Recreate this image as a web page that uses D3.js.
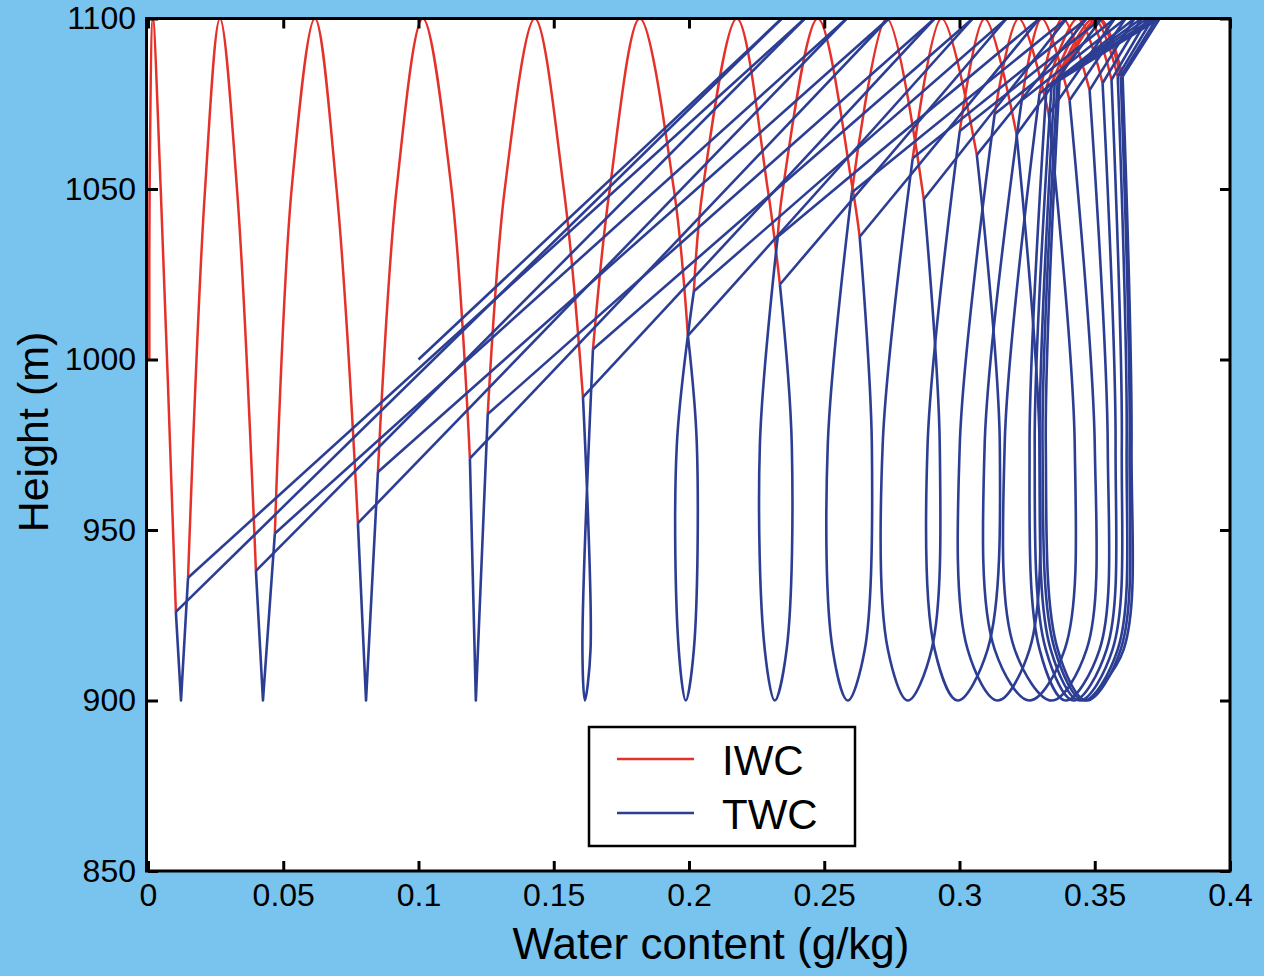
<!DOCTYPE html>
<html>
<head>
<meta charset="utf-8">
<script src="https://cdn.jsdelivr.net/npm/d3@7"></script>
<style>
  body { margin: 0; background: #79c4ee; }
  svg { display: block; }
  text { font-family: "Liberation Sans", Arial, Helvetica, sans-serif; fill: #000; }
</style>
</head>
<body>
<script>
// axis ticks
var xTicks = [0, 0.05, 0.1, 0.15, 0.2, 0.25, 0.3, 0.35, 0.4];
var xTickLabels = ['0', '0.05', '0.1', '0.15', '0.2', '0.25', '0.3', '0.35', '0.4'];
var yTicks = [850, 900, 950, 1000, 1050, 1100];

// heights used for the read-off points (m)
var zTop = 1100, zBottom = 900, zLeg = 1050, zSide = 975, zLow = 915;

// start of both curves
var iwcStart = [0.0005, 1000];
var twcStart = [0.1, 1000];

// one entry per oscillation cycle
var peakX = [0.0018, 0.0266, 0.0617, 0.1016, 0.1430, 0.1818, 0.2177, 0.2476, 0.2731, 0.2934,
             0.3093, 0.3219, 0.3304, 0.3381, 0.3437, 0.3474, 0.3496, 0.3511, 0.3518];
var legLeftX = [0.0006, 0.0211, 0.0531, 0.0919, 0.1319, 0.1707, 0.2051, 0.2347];
var legRightX = [0.0047, 0.0329, 0.0697, 0.1122, 0.1537, 0.1944, 0.2291, 0.2605];
var topX = [0.2343, 0.2428, 0.2583, 0.2738, 0.2908, 0.3049, 0.3174, 0.3296, 0.3396, 0.3470,
            0.3525, 0.3574, 0.3614, 0.3647, 0.3673, 0.3695, 0.3714, 0.3729, 0.3740];
var descX = [0.0103, 0.0399, 0.0776, 0.1190, 0.1608, 0.1996, 0.2336, 0.2631, 0.2868, 0.3064,
             0.3211, 0.3330, 0.3407, 0.3481, 0.3529, 0.3562, 0.3585, 0.3596, 0.3603];
var descZ = [926, 938, 952, 971, 989, 1007, 1022, 1036, 1047, 1060,
             1066, 1072, 1076, 1079, 1081, 1082, 1083, 1083, 1083];
var descSideX = [null, null, null, null, null, 0.2029, 0.2380, 0.2676, 0.2927, 0.3149,
                 0.3296, 0.3426, 0.3500, 0.3548, 0.3577, 0.3600, 0.3618, 0.3629, 0.3636];
var descLowX = [null, null, null, null, 0.1636, 0.2018, 0.2361, 0.2650, 0.2897, 0.3104,
                0.3259, 0.3389, 0.3470, 0.3518, 0.3544, 0.3566, 0.3585, 0.3596, 0.3607];
var bottomX = [0.0122, 0.0425, 0.0806, 0.1212, 0.1615, 0.1988, 0.2317, 0.2587, 0.2809, 0.2993,
               0.3141, 0.3259, 0.3341, 0.3392, 0.3422, 0.3444, 0.3459, 0.3470, 0.3478];
var ascLowX = [null, null, null, null, 0.1606, 0.1962, 0.2280, 0.2531, 0.2735, 0.2908,
               0.3030, 0.3130, 0.3204, 0.3296, 0.3319, 0.3337, 0.3352, 0.3363];
var ascSideX = [null, null, null, null, null, 0.1955, 0.2262, 0.2513, 0.2716, 0.2882,
                0.3001, 0.3093, 0.3167, 0.3259, 0.3278, 0.3296, 0.3307, 0.3319];
var ascX = [0.0148, 0.0469, 0.0850, 0.1256, 0.1645, 0.2018, 0.2328, 0.2602, 0.2827, 0.3001,
            0.3130, 0.3230, 0.3296, 0.3322, 0.3341, 0.3352, 0.3363, 0.3370];
var ascZ = [936, 949, 967, 984, 1003, 1020, 1036, 1049, 1059, 1067,
            1072, 1076, 1078, 1080, 1081, 1081, 1082, 1082];

var legendNames = ['IWC', 'TWC'];

var width = 1264;
var height = 976;
var margin = { left: 148, right: 34, top: 18.5, bottom: 105 };
var red = '#e4322b';
var blue = '#2c3e94';

var svg = d3.select('body')
  .append('svg')
  .attr('width', width)
  .attr('height', height);

var xScale = d3.scaleLinear()
  .domain([0, 0.4])
  .range([margin.left, width - margin.right]);

var yScale = d3.scaleLinear()
  .domain([850, 1100])
  .range([height - margin.bottom, margin.top]);

svg.append('rect')
  .attr('x', xScale(0))
  .attr('y', yScale(1100))
  .attr('width', xScale(0.4) - xScale(0))
  .attr('height', yScale(850) - yScale(1100))
  .attr('fill', '#fff');

svg.append('clipPath')
  .attr('id', 'plot')
  .append('rect')
  .attr('x', xScale(0))
  .attr('y', yScale(1100))
  .attr('width', xScale(0.4) - xScale(0))
  .attr('height', yScale(850) - yScale(1100));

// red ice arches: cloud base on the way up -> top -> cloud base on the way down
var redArches = peakX.map(function(p, i) {
  var pts = [];
  pts.push(i === 0 ? iwcStart : [ascX[i - 1], ascZ[i - 1]]);
  if (legLeftX[i] != null) pts.push([legLeftX[i], zLeg]);
  pts.push([p, zTop]);
  if (legRightX[i] != null) pts.push([legRightX[i], zLeg]);
  pts.push([descX[i], descZ[i]]);
  return pts;
});

// blue total water: straight diagonals in the liquid layer...
var diagonals = [[twcStart, [topX[0], zTop]]];
topX.forEach(function(t, i) {
  diagonals.push([[t, zTop], [descX[i], descZ[i]]]);
  if (i + 1 < topX.length) diagonals.push([[ascX[i], ascZ[i]], [topX[i + 1], zTop]]);
});

// ...and the ice-only part below cloud base (sharp V's first, loops later)
var vees = [];
var loops = [];
topX.forEach(function(t, i) {
  var hasAsc = i < ascX.length;
  if (descLowX[i] == null) {
    var v = [[descX[i], descZ[i]], [bottomX[i], zBottom]];
    if (hasAsc) v.push([ascX[i], ascZ[i]]);
    vees.push(v);
    return;
  }
  var pts = [[descX[i], descZ[i]]];
  if (descSideX[i] != null) pts.push([descSideX[i], zSide]);
  pts.push([descLowX[i], zLow]);
  pts.push([bottomX[i], zBottom]);
  if (hasAsc) {
    pts.push([ascLowX[i], zLow]);
    if (ascSideX[i] != null) pts.push([ascSideX[i], zSide]);
    pts.push([ascX[i], ascZ[i]]);
  }
  loops.push(pts);
});

var smooth = d3.line()
  .x(function(d) { return xScale(d[0]); })
  .y(function(d) { return yScale(d[1]); })
  .curve(d3.curveCatmullRom.alpha(0.5));

var straight = d3.line()
  .x(function(d) { return xScale(d[0]); })
  .y(function(d) { return yScale(d[1]); });

var curves = svg.append('g').attr('clip-path', 'url(#plot)');

curves.selectAll('path.iwc')
  .data(redArches)
  .enter()
  .append('path')
  .attr('class', 'iwc')
  .attr('d', smooth)
  .attr('fill', 'none')
  .attr('stroke', red)
  .attr('stroke-width', 2.5);

curves.selectAll('path.diag')
  .data(diagonals)
  .enter()
  .append('path')
  .attr('class', 'diag')
  .attr('d', straight)
  .attr('fill', 'none')
  .attr('stroke', blue)
  .attr('stroke-width', 2.6)
  .attr('stroke-linejoin', 'round');

curves.selectAll('path.vee')
  .data(vees)
  .enter()
  .append('path')
  .attr('class', 'vee')
  .attr('d', straight)
  .attr('fill', 'none')
  .attr('stroke', blue)
  .attr('stroke-width', 2.6)
  .attr('stroke-linejoin', 'round');

curves.selectAll('path.loop')
  .data(loops)
  .enter()
  .append('path')
  .attr('class', 'loop')
  .attr('d', smooth)
  .attr('fill', 'none')
  .attr('stroke', blue)
  .attr('stroke-width', 2.6);

// axes, MATLAB style box with inward ticks
var xAxis = d3.axisBottom(xScale)
  .tickValues(xTicks)
  .tickFormat(function(d, i) { return xTickLabels[i]; })
  .tickSizeInner(-10)
  .tickSizeOuter(0)
  .tickPadding(12);

var yAxis = d3.axisLeft(yScale)
  .tickValues(yTicks)
  .tickFormat(d3.format('d'))
  .tickSizeInner(-10)
  .tickSizeOuter(0)
  .tickPadding(12);

var gx = svg.append('g')
  .attr('transform', 'translate(0,' + yScale(850) + ')')
  .call(xAxis);

var gy = svg.append('g')
  .attr('transform', 'translate(' + xScale(0) + ',0)')
  .call(yAxis);

var gxTop = svg.append('g')
  .attr('transform', 'translate(0,' + yScale(1100) + ')')
  .call(d3.axisTop(xScale).tickValues(xTicks).tickFormat('').tickSizeInner(-10).tickSizeOuter(0));

var gyRight = svg.append('g')
  .attr('transform', 'translate(' + xScale(0.4) + ',0)')
  .call(d3.axisRight(yScale).tickValues(yTicks).tickFormat('').tickSizeInner(-10).tickSizeOuter(0));

[gx, gy, gxTop, gyRight].forEach(function(g) {
  g.select('.domain').remove();
  g.selectAll('.tick line').attr('stroke', '#000').attr('stroke-width', 3);
  g.selectAll('.tick text')
    .attr('font-size', '32px')
    .attr('font-family', '"Liberation Sans", Arial, Helvetica, sans-serif')
    .attr('fill', '#000');
});

svg.append('rect')
  .attr('x', xScale(0) - 1.5)
  .attr('y', yScale(1100))
  .attr('width', xScale(0.4) - xScale(0) + 1.5)
  .attr('height', yScale(850) - yScale(1100))
  .attr('fill', 'none')
  .attr('stroke', '#000')
  .attr('stroke-width', 3);

// axis titles
svg.append('text')
  .attr('x', 711)
  .attr('y', 959)
  .attr('text-anchor', 'middle')
  .attr('font-size', '44px')
  .text('Water content (g/kg)');

svg.append('text')
  .attr('transform', 'translate(48,432) rotate(-90)')
  .attr('text-anchor', 'middle')
  .attr('font-size', '43px')
  .text('Height (m)');

// legend
var legend = svg.append('g').attr('transform', 'translate(589,727)');

legend.append('rect')
  .attr('width', 266)
  .attr('height', 119)
  .attr('fill', '#fff')
  .attr('stroke', '#000')
  .attr('stroke-width', 2.5);

legend.selectAll('line')
  .data(legendNames)
  .enter()
  .append('line')
  .attr('x1', 28)
  .attr('x2', 105)
  .attr('y1', function(d, i) { return 32 + i * 54; })
  .attr('y2', function(d, i) { return 32 + i * 54; })
  .attr('stroke', function(d, i) { return i === 0 ? red : blue; })
  .attr('stroke-width', 2.5);

legend.selectAll('text')
  .data(legendNames)
  .enter()
  .append('text')
  .attr('x', 133)
  .attr('y', function(d, i) { return 48 + i * 54; })
  .attr('font-size', '42px')
  .text(function(d) { return d; });
</script>
</body>
</html>
